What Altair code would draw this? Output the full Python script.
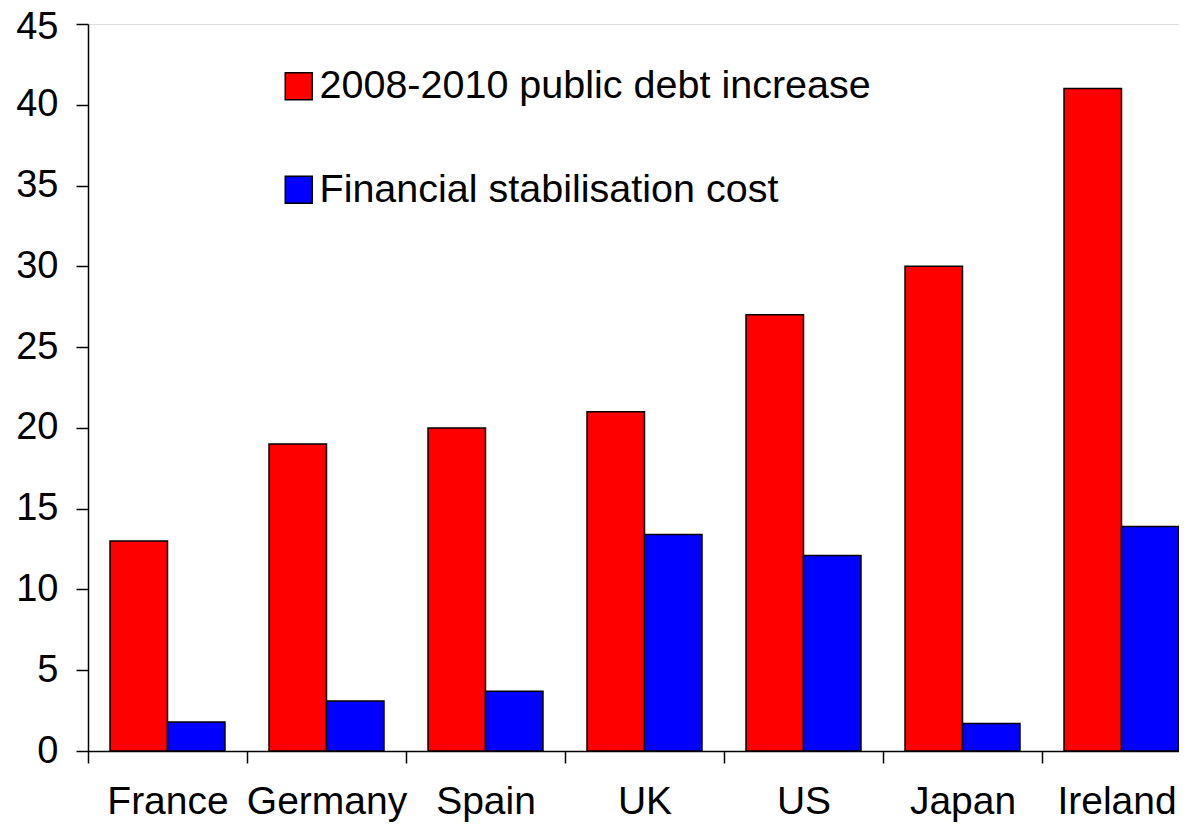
import altair as alt
import pandas as pd

countries = ["France", "Germany", "Spain", "UK", "US", "Japan", "Ireland"]
debt_increase = [13, 19, 20, 21, 27, 30, 41]
stabilisation_cost = [1.8, 3.1, 3.7, 13.4, 12.1, 1.7, 13.9]
series = ["2008-2010 public debt increase", "Financial stabilisation cost"]
colors = ["#FF0000", "#0000FF"]
y_ticks = [0, 5, 10, 15, 20, 25, 30, 35, 40, 45]

rows = []
for c, a, b in zip(countries, debt_increase, stabilisation_cost):
    rows.append({"country": c, "series": series[0], "value": a})
    rows.append({"country": c, "series": series[1], "value": b})
df = pd.DataFrame(rows)

FONT = "Liberation Sans"
X_RANGE = 1113          # plot extends past the right edge, as in the original
STEP = X_RANGE / len(countries)

chart = alt.Chart(df).mark_bar(stroke="black", strokeWidth=1.5).encode(
    x=alt.X(
        "country:N", sort=countries, title=None,
        scale=alt.Scale(range=[0, X_RANGE], paddingInner=0.277, paddingOuter=0.1385),
        axis=alt.Axis(labelAngle=0, tickSize=12, tickWidth=1.5,
                      tickOffset=-STEP / 2,
                      labelOffset=alt.condition("datum.value == 'Ireland'",
                                                alt.value(STEP / 2 - 5),
                                                alt.value(STEP / 2)),
                      domainWidth=1.5, labelFontSize=39, labelPadding=19,
                      labelFont=FONT, labelColor="black", domainColor="black",
                      tickColor="black", labelLimit=0),
    ),
    xOffset=alt.XOffset("series:N", sort=series,
                        scale=alt.Scale(paddingInner=0, paddingOuter=0)),
    y=alt.Y(
        "value:Q", title=None,
        scale=alt.Scale(domain=[0, 45], nice=False),
        axis=alt.Axis(values=y_ticks, grid=False, tickSize=12, tickWidth=1.5,
                      domainWidth=1.5, labelFontSize=38, labelPadding=18,
                      labelOffset=alt.condition("datum.value == 45",
                                                alt.value(3), alt.value(0)),
                      labelFont=FONT, labelColor="black", domainColor="black",
                      tickColor="black"),
    ),
    color=alt.Color(
        "series:N", sort=series,
        scale=alt.Scale(domain=series, range=colors),
        legend=alt.Legend(
            title=None, orient="none", legendX=191, legendY=42.5,
            direction="vertical", labelFontSize=39.5, labelFont=FONT,
            labelColor="black", symbolType="square", symbolSize=729,
            symbolStrokeColor="black", symbolStrokeWidth=1.5,
            rowPadding=62.5, labelOffset=1, labelLimit=0,
        ),
    ),
).properties(
    width=1091, height=727,
    autosize=alt.AutoSizeParams(type="none"),
    padding={"left": 80, "top": 16, "right": 0, "bottom": 72},
).configure_view(stroke=None).configure(background="white")

chart.save("out.html", embed_options={"renderer": "svg", "actions": False})
